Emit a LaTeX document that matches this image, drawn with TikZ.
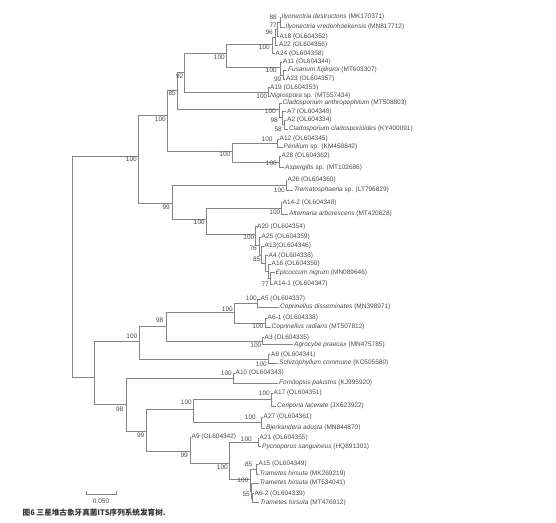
\documentclass[tikz,border=0pt]{standalone}
\usepackage{fontspec}
\setmainfont{Liberation Sans}
\newfontfamily\cjk{Noto Sans CJK SC}
\definecolor{branch}{HTML}{858585}
\definecolor{txt}{HTML}{4A4A4A}
\begin{document}
\begin{tikzpicture}[x=1pt,y=-1pt,font=\fontsize{6.5}{7}\selectfont,
  br/.style={draw=branch,line width=0.6pt},
  leaf/.style={anchor=west,inner xsep=1pt,inner ysep=0pt,text=txt},
  bs/.style={anchor=east,inner sep=0pt,text=txt}]
\useasboundingbox (0,0) rectangle (556,522);
% internal nodes
\coordinate (root) at (72,266);
\coordinate (asco) at (138,156);
\coordinate (X) at (167,115);
\coordinate (Y) at (177,90);
\coordinate (Z) at (184,72);
\coordinate (W) at (226,53);
\coordinate (n100a) at (272.5,44);
\coordinate (n96) at (275,37.4);
\coordinate (n77) at (277.5,29.5);
\coordinate (n88) at (280,22.3);
\coordinate (n100b) at (280.5,67);
\coordinate (n99) at (283,74.8);
\coordinate (Nig) at (268.5,92);
\coordinate (Clado) at (279,109);
\coordinate (n98) at (282,117);
\coordinate (n58) at (284.5,124.6);
\coordinate (P) at (232,151);
\coordinate (n100d) at (277.3,143.3);
\coordinate (n100e) at (279.3,162);
\coordinate (D1) at (172,203);
\coordinate (Trem) at (286,185.2);
\coordinate (D2) at (206,219);
\coordinate (Alt) at (281,208.5);
\coordinate (Epi) at (255.5,234.5);
\coordinate (n76) at (259.3,245);
\coordinate (n85) at (261.7,254.8);
\coordinate (nA4) at (265,263.4);
\coordinate (nA16) at (268.3,271.1);
\coordinate (n77b) at (270.7,278.5);
\coordinate (B) at (94,377);
\coordinate (C) at (139,341);
\coordinate (C98) at (166,326);
\coordinate (Cop) at (234,312);
\coordinate (A5n) at (257.3,303.3);
\coordinate (A6n) at (265,322.8);
\coordinate (Agro) at (262.7,341.2);
\coordinate (Schizo) at (268.3,359);
\coordinate (D) at (126.7,404);
\coordinate (Fom) at (233.3,378);
\coordinate (E) at (146.7,431);
\coordinate (F) at (193.3,409.7);
\coordinate (Cer) at (271.7,399.5);
\coordinate (Bjer) at (261.7,422.5);
\coordinate (G) at (190,451);
\coordinate (H) at (229.3,463);
\coordinate (Pyc) at (258,442.5);
\coordinate (I) at (250,479.5);
\coordinate (J) at (256,469);
\coordinate (K) at (251,491);
\coordinate (K2) at (252.5,498);
% leaves
\node[leaf] (l1) at (280.5,17.3) {\textit{Ilyonectria destructons} (MK170371)};
\node[leaf] (l2) at (284.5,27.3) {\textit{Ilyonectria vredenhoekensis} (MN817712)};
\node[leaf] (l3) at (278.5,36.7) {A18 (OL604352)};
\node[leaf] (l4) at (278,45.3) {A22 (OL604356)};
\node[leaf] (l5) at (274.5,53.7) {A24 (OL604358)};
\node[leaf] (l6) at (282,62.3) {A11 (OL604344)};
\node[leaf] (l7) at (287,70.3) {\textit{Fusarium fujikuroi} (MT603307)};
\node[leaf] (l8) at (285,79.3) {A23 (OL604357)};
\node[leaf] (l9) at (269,87.7) {A19 (OL604353)};
\node[leaf] (l10) at (269,96.3) {\textit{Nigrospora} sp. (MT557434)};
\node[leaf] (l11) at (281.5,103.3) {\textit{Cladosporium anthropophilum} (MT508803)};
\node[leaf] (l12) at (286,111.7) {A7 (OL604340)};
\node[leaf] (l13) at (286,120) {A2 (OL604334)};
\node[leaf] (l14) at (288,129.3) {\textit{Cladosporium cladosporioides} (KY400091)};
\node[leaf] (l15) at (278.5,139.3) {A12 (OL604345)};
\node[leaf] (l16) at (282.5,147.3) {\textit{Penilium} sp. (KM458842)};
\node[leaf] (l17) at (280.5,156) {A28 (OL604362)};
\node[leaf] (l18) at (284,167.7) {\textit{Aspergilts} sp. (MT102686)};
\node[leaf] (l19) at (286.5,180) {A26 (OL604360)};
\node[leaf] (l20) at (293,190.3) {\textit{Trematosphaeria} sp. (LT796829)};
\node[leaf] (l21) at (281.5,202.7) {A14-2 (OL604348)};
\node[leaf] (l22) at (288,214.3) {\textit{Alternaria arborescens} (MT420628)};
\node[leaf] (l23) at (256,226.7) {A20 (OL604354)};
\node[leaf] (l24) at (260.5,237.3) {A25 (OL604359)};
\node[leaf] (l25) at (263.5,246) {A13(OL604346)};
\node[leaf] (l26) at (267.5,255.7) {A4 (OL604336)};
\node[leaf] (l27) at (270.5,264) {A16 (OL604350)};
\node[leaf] (l28) at (274.5,272.7) {\textit{Epicoccum nigrum} (MN089646)};
\node[leaf] (l29) at (272.5,284.3) {A14-1 (OL604347)};
\node[leaf] (l30) at (259.5,299.3) {A5 (OL604337)};
\node[leaf] (l31) at (279,307.3) {\textit{Coprinellus disseminates} (MN398971)};
\node[leaf] (l32) at (266.5,318.3) {A6-1 (OL604338)};
\node[leaf] (l33) at (270.5,327.3) {\textit{Coprinellus radians} (MT507812)};
\node[leaf] (l34) at (263.5,337.7) {A3 (OL604335)};
\node[leaf] (l35) at (293,344.7) {\textit{Agrocybe praecax} (MN475785)};
\node[leaf] (l36) at (270,354.7) {A8 (OL604341)};
\node[leaf] (l37) at (278,363.3) {\textit{Schizophyllum commune} (KC505580)};
\node[leaf] (l38) at (234.5,373.3) {A10 (OL604343)};
\node[leaf] (l39) at (278,383.3) {\textit{Fomitopsis palustris} (KJ995920)};
\node[leaf] (l40) at (272.5,393.3) {A17 (OL604351)};
\node[leaf] (l41) at (276,406) {\textit{Ceriporia lacerate} (JX623922)};
\node[leaf] (l42) at (262.5,417.3) {A27 (OL604361)};
\node[leaf] (l43) at (265,428.3) {\textit{Bjerkandera adusta} (MN844870)};
\node[leaf] (l44) at (190.5,437) {A9 (OL604342)};
\node[leaf] (l45) at (258.5,438.3) {A21 (OL604355)};
\node[leaf] (l46) at (261,446.7) {\textit{Pycnoporus sanguineus} (HQ891301)};
\node[leaf] (l47) at (257.5,464.3) {A15 (OL604349)};
\node[leaf] (l48) at (258.5,474) {\textit{Trametes hirsuta} (MK269219)};
\node[leaf] (l49) at (258.5,483.3) {\textit{Trametes hirsuta} (MT534041)};
\node[leaf] (l50) at (253.5,493.5) {A6-2 (OL604339)};
\node[leaf] (l51) at (259,502.5) {\textit{Trametes hirsuta} (MT476912)};
% branches
\foreach \p/\c in {root/asco,root/B,asco/X,asco/D1,X/Y,X/P,Y/Z,Y/Clado,Z/W,Z/Nig,
  W/n100a,W/n100b,n100a/n96,n96/n77,n77/n88,n100b/n99,Clado/n98,n98/n58,P/n100d,P/n100e,
  D1/Trem,D1/D2,D2/Alt,D2/Epi,Epi/n76,n76/n85,n85/nA4,nA4/nA16,nA16/n77b,
  B/C,B/D,C/C98,C/Schizo,C98/Cop,C98/Agro,Cop/A5n,Cop/A6n,D/Fom,D/E,E/F,E/G,
  F/Cer,F/Bjer,G/H,H/Pyc,H/I,I/J,I/K,K/K2}
  \draw[br] (\p) |- (\c);
\foreach \p/\c in {n88/l1,n88/l2,n77/l3,n96/l4,n100a/l5,n100b/l6,n99/l7,n99/l8,Nig/l9,Nig/l10,
  Clado/l11,n98/l12,n58/l13,n58/l14,n100d/l15,n100d/l16,n100e/l17,n100e/l18,Trem/l19,Trem/l20,
  Alt/l21,Alt/l22,Epi/l23,n76/l24,n85/l25,nA4/l26,nA16/l27,n77b/l28,n77b/l29,A5n/l30,A5n/l31,
  A6n/l32,A6n/l33,Agro/l34,Agro/l35,Schizo/l36,Schizo/l37,Fom/l38,Fom/l39,Cer/l40,Cer/l41,
  Bjer/l42,Bjer/l43,G/l44,Pyc/l45,Pyc/l46,J/l47,J/l48,K/l49,K2/l50,K2/l51}
  \draw[br] (\p) |- (\c.west);
% bootstrap values
\foreach \x/\y/\v [count=\i] in {137/159/100,166/119/100,176/93/85,183.5/76/92,225/57/100,
  270/47/100,273/32/96,277/25.5/77,277/17.3/88,277/70.3/100,281.5/79.3/99,267.5/96.3/100,
  276/111.7/100,278/120/98,282/129.3/58,230.5/154/100,272.7/139.3/100,277/163.3/100,
  170/207.7/99,285/190.3/100,205/222.7/100,280.5/212.3/100,254.5/237.3/100,257/248/76,
  260.5/259.5/85,269/284.3/77,137.5/336.7/100,163.5/320.7/98,233/309/100,257/298.3/100,
  263.5/326.5/100,261.5/345/100,267/364/100,123.5/409.3/98,232/373.5/100,144.5/435.7/99,
  192/402.7/100,270/393.5/100,256/417.3/100,188/455/99,228/467/100,252/439.5/100,
  248.5/480.7/100,252.5/464.3/85,250/494/55}
  \node[bs] (b\i) at (\x,\y) {\v};
% scale bar
\coordinate (s0) at (86.5,494);
\coordinate (s1) at (116,494);
\draw[br] (s0) ++(0,-3) -- (s0) -- (s1) -- ++(0,-3);
\node[text=txt] (sc) at (101,501) {0.050};
% caption
\node[anchor=west,inner sep=0pt,text=black!80] (cap) at (22.5,512.7)
  {\cjk\fontsize{7.6}{8}\selectfont\bfseries 图6 三星堆古象牙真菌ITS序列系统发育树.};
\end{tikzpicture}
\end{document}
